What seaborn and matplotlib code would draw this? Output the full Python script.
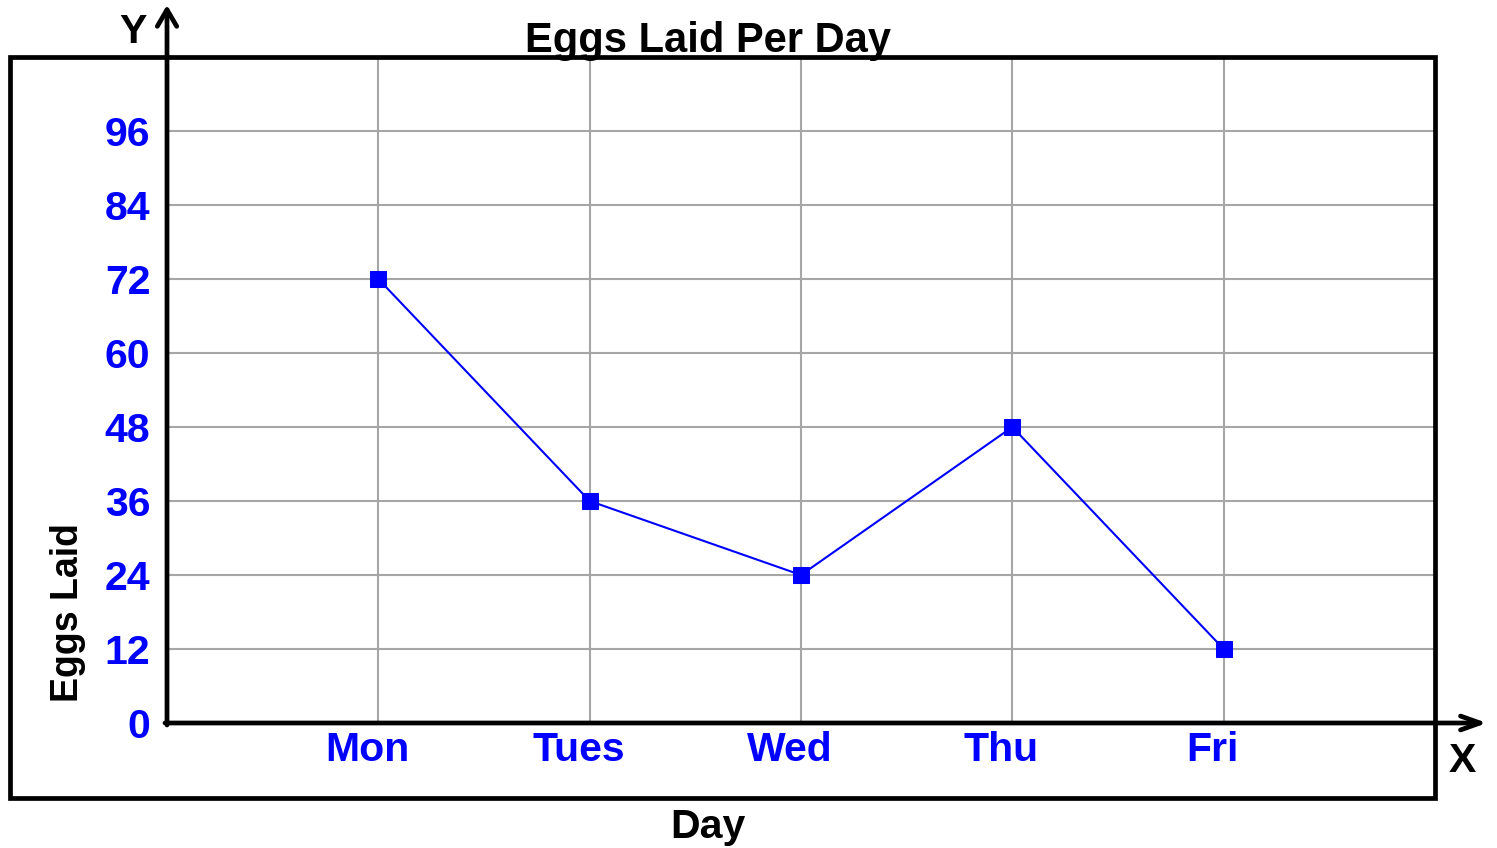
import matplotlib
matplotlib.use("Agg")
import matplotlib.pyplot as plt
import matplotlib.transforms as mtransforms
from matplotlib.patches import Rectangle, FancyArrowPatch
import seaborn as sns

# data
days = ["Mon", "Tues", "Wed", "Thu", "Fri"]
eggs = [72, 36, 24, 48, 12]
y_ticks = [0, 12, 24, 36, 48, 60, 72, 84, 96]

W, H = 1497, 848
BLUE = "#0000ff"

sns.set_style("white")
plt.rcParams["font.family"] = ["Liberation Sans", "DejaVu Sans"]
plt.rcParams["font.weight"] = "bold"
plt.rcParams["text.color"] = "black"


def fx(px):
    return px / W


def fy(py):
    return 1 - py / H


fig = plt.figure(figsize=(W / 100, H / 100), dpi=100)
ax = fig.add_axes([fx(167), fy(723), fx(1435 - 167), (723 - 57) / H])

sns.lineplot(x=days, y=eggs, ax=ax, sort=False, color=BLUE, linewidth=1.5,
             marker="s", markersize=11, markeredgecolor=BLUE, markerfacecolor=BLUE,
             zorder=5)

ax.set_xlim(-1, 5)
ax.set_ylim(0, 108)
ax.set_xticks(range(len(days)))
ax.set_xticklabels(days)
ax.set_yticks(y_ticks)
ax.set_yticklabels([str(v) for v in y_ticks])
ax.set_xlabel("")
ax.set_ylabel("")

ax.grid(True, color="#a6a6a6", linewidth=1.5)
ax.set_axisbelow(True)
for s in ax.spines.values():
    s.set_visible(False)

ax.tick_params(axis="both", length=0, labelcolor=BLUE, labelsize=29.5)
ax.tick_params(axis="x", pad=6)
ax.tick_params(axis="y", pad=12)
shift = mtransforms.ScaledTranslation(-11 / 100, 0, fig.dpi_scale_trans)
for lab in ax.get_xticklabels():
    lab.set_fontweight("bold")
    lab.set_transform(lab.get_transform() + shift)
for lab in ax.get_yticklabels():
    lab.set_fontweight("bold")

# outer frame
fig.add_artist(Rectangle((fx(10), fy(798)), fx(1435 - 10), (798 - 57) / H,
                         transform=fig.transFigure, fill=False,
                         edgecolor="black", linewidth=3.4, zorder=3))

# axis arrows
fig.add_artist(FancyArrowPatch((fx(167), fy(725)), (fx(167), fy(5)),
                               transform=fig.transFigure,
                               arrowstyle="->,head_length=12,head_width=7",
                               mutation_scale=1, shrinkA=0, shrinkB=0,
                               color="black", linewidth=3.4, zorder=4))
fig.add_artist(FancyArrowPatch((fx(165), fy(723)), (fx(1487), fy(723)),
                               transform=fig.transFigure,
                               arrowstyle="->,head_length=14,head_width=5",
                               mutation_scale=1, shrinkA=0, shrinkB=0,
                               color="black", linewidth=3.4, zorder=4))

# texts
fig.text(fx(708), fy(52), "Eggs Laid Per Day", ha="center", va="baseline",
         fontsize=30, fontweight="bold", color="black")
fig.text(fx(708), fy(838), "Day", ha="center", va="baseline",
         fontsize=29.5, fontweight="bold", color="black")
fig.text(fx(68), fy(613), "Eggs Laid", ha="center", va="center",
         rotation=90, fontsize=27, fontweight="bold", color="black")
fig.text(fx(133), fy(43), "Y", ha="center", va="baseline",
         fontsize=29.5, fontweight="bold", color="black")
fig.text(fx(1462), fy(772), "X", ha="center", va="baseline",
         fontsize=29.5, fontweight="bold", color="black")

fig.savefig("out.png", dpi=100)
